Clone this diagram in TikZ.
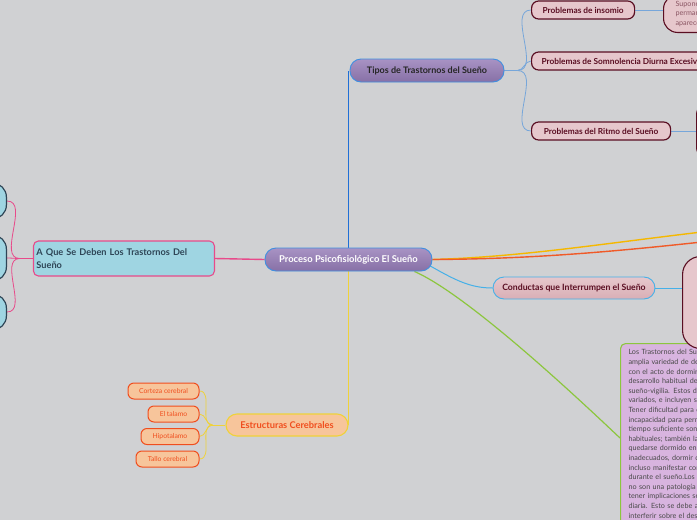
\documentclass[tikz,border=0pt]{standalone}
\usepackage{fontspec}
\setmainfont{Lato}
\usetikzlibrary{calc, backgrounds}
\definecolor{canvas}{HTML}{D0D1D3}
\definecolor{purplt}{HTML}{A893C4}
\definecolor{purpdk}{HTML}{8770A6}
\definecolor{hubline}{HTML}{3F8FE0}
\definecolor{blueln}{HTML}{1F6FD6}
\definecolor{skyln}{HTML}{76A6DA}
\definecolor{cyanln}{HTML}{45B0E8}
\definecolor{rosefill}{HTML}{E6C7CC}
\definecolor{rosedk}{HTML}{D9AFB6}
\definecolor{maroon}{HTML}{5A0E22}
\definecolor{yellowln}{HTML}{F5B800}
\definecolor{orangeln}{HTML}{F05A28}
\definecolor{greenln}{HTML}{8CC63E}
\definecolor{lilac}{HTML}{D8B4DF}
\definecolor{txtgray}{HTML}{4A4A4A}
\definecolor{peach}{HTML}{F7C59B}
\definecolor{goldln}{HTML}{EFD23A}
\definecolor{flame}{HTML}{F04E1E}
\definecolor{aqua}{HTML}{9FD5E2}
\definecolor{pinkln}{HTML}{E84A8A}
\definecolor{slate}{HTML}{2E4556}
\tikzset{
  hub/.style={rounded corners=11pt, draw=hubline, line width=0.9pt, top color=purplt, bottom color=purpdk,
              minimum height=23pt, inner sep=0pt, font=\fontsize{9.4}{10}\selectfont\bfseries},
  topic/.style={hub, text=black!85, font=\fontsize{9}{10}\selectfont\bfseries},
  prob/.style={rounded corners=7pt, draw=maroon, fill=rosefill, line width=1.2pt, minimum height=18pt,
               inner xsep=10pt, inner ysep=0pt, font=\fontsize{8.3}{9}\selectfont\bfseries, text=maroon},
  bigbox/.style={rounded corners=14pt, draw=maroon, fill=rosefill, line width=1.1pt, inner ysep=6pt,
                 inner xsep=12pt, align=left, font=\fontsize{7.2}{9.6}\selectfont, text=maroon!70},
  conduct/.style={rounded corners=11pt, draw=cyanln, line width=0.9pt, top color=rosefill, bottom color=rosedk,
                  minimum height=22pt, inner sep=0pt, font=\fontsize{8.7}{10}\selectfont\bfseries, text=maroon},
  struct/.style={rounded corners=11pt, draw=goldln, fill=peach, line width=1.1pt, minimum height=22pt,
                 inner sep=0pt, font=\fontsize{9.3}{10}\selectfont\bfseries, text=flame},
  part/.style={rounded corners=6pt, draw=flame, fill=peach, line width=1pt, minimum height=16pt,
               inner sep=0pt, font=\fontsize{6.8}{8}\selectfont, text=flame},
  cause/.style={rounded corners=5pt, draw=pinkln, fill=aqua, line width=1.1pt, minimum height=35pt,
                text width=175pt, inner xsep=3pt, align=left,
                font=\fontsize{9.2}{12.5}\selectfont\bfseries, text=slate},
  blob/.style={rounded corners=14pt, draw=slate, fill=aqua, line width=1.2pt, minimum width=60pt},
  note/.style={rounded corners=5pt, draw=greenln, fill=lilac, line width=1.1pt, inner xsep=8pt, inner ysep=6pt,
               text width=210pt, align=left, font=\fontsize{7.2}{9.6}\selectfont, text=txtgray},
  main/.style={line width=1.4pt},
  twig/.style={line width=0.8pt},
}
\begin{document}
\begin{tikzpicture}[x=1pt, y=-1pt]
  \useasboundingbox (0,0) rectangle (697,520);
  \clip (0,0) rectangle (697,520);
  % center and first level
  \node[hub, minimum width=167pt, text=white] (c) at (348.5,259.5) {Proceso Psicofisiológico El Sueño};
  \node[topic, minimum width=154pt] (t) at (427,70.5) {Tipos de Trastornos del Sueño};
  \node[conduct, minimum width=162pt] (con) at (574,288) {Conductas que Interrumpen el Sueño};
  \node[struct, minimum width=122pt] (e) at (287,425) {Estructuras Cerebrales};
  \node[cause, anchor=east] (a) at (215,258.5) {A Que Se Deben Los Trastornos Del\\Sueño};
  \node[note, anchor=north west] (g) at (620,343) {Los Trastornos del Sueño constituyen una\\
    amplia variedad de desórdenes relacionados\\
    con el acto de dormir, que afectan al\\
    desarrollo habitual del ciclo\\
    sueño-vigilia. Estos desórdenes son muy\\
    variados, e incluyen síntomas como:\\
    Tener dificultad para conciliar el sueño o\\
    incapacidad para permanecer dormido el\\
    tiempo suficiente son los problemas más\\
    habituales; también la tendencia a\\
    quedarse dormido en momentos\\
    inadecuados, dormir demasiado o\\
    incluso manifestar conductas anormales\\
    durante el sueño.Los trastornos del sueño\\
    no son una patología menor, ya que pueden\\
    tener implicaciones serias en la vida\\
    diaria. Esto se debe a que pueden\\
    interferir sobre el desempeño};
  % tipos
  \node[prob, anchor=west, minimum width=103pt] (ins) at (531,10) {Problemas de insomio};
  \node[prob, anchor=west] (som) at (531,61) {Problemas de Somnolencia Diurna Excesiva};
  \node[prob, anchor=west, minimum width=139pt] (rit) at (531,131) {Problemas del Ritmo del Sueño};
  \node[bigbox, anchor=south west, text width=120pt] (insb) at (663,33) {Suponen dificultad para iniciar o\\permanecer en el sueño, y suelen\\aparecer por estrés};
  \node[bigbox, anchor=west, minimum width=60pt, minimum height=60pt] (ritb) at (696,131) {};
  \node[bigbox, anchor=west, rounded corners=18pt, minimum width=60pt, minimum height=92pt] (conb) at (682,302.5) {};
  % estructuras
  \node[part, minimum width=71pt] (s1) at (163.5,391) {Corteza cerebral};
  \node[part, minimum width=51pt] (s2) at (173.5,414) {El talamo};
  \node[part, minimum width=58pt] (s3) at (170,436.5) {Hipotalamo};
  \node[part, minimum width=63pt] (s4) at (167.5,459) {Tallo cerebral};
  % left blobs
  \node[blob, anchor=east, minimum height=36pt] (l1) at (7,201) {};
  \node[blob, anchor=east, minimum height=46pt] (l2) at (7,258) {};
  \node[blob, anchor=east, minimum height=36pt] (l3) at (7,312) {};
  \coordinate (yend) at (702,232);
  \coordinate (oend) at (702,242);
  \coordinate (tb) at ($(t.east)+(13,0)$);
  \coordinate (eb) at ($(e.west)+(-13,0)$);
  \coordinate (ab) at ($(a.west)+(-13,0)$);
  \begin{scope}[on background layer]
    \fill[canvas] (0,0) rectangle (697,520);
    \draw[main, yellowln] (c.east) .. controls (520,257) and (600,244) .. (yend);
    \draw[main, orangeln] (c.east) .. controls (530,259) and (610,252) .. (oend);
    \draw[main, blueln] (c.north) -- (c.north |- t.west);
    \draw[main, goldln] (c.south) -- (c.south |- e.east);
    \draw[main, pinkln] (c.west) -- (a.east);
    \draw[main, cyanln, line width=1pt] ($(c.east)+(-3,6)$) .. controls (455,280) and (470,288) .. (con.west);
    \draw[main, greenln, line width=1.2pt] ($(c.south east)+(-18,0)$) .. controls (470,296) and (585,405) .. ([yshift=-95pt]g.north west);
    \draw[twig, skyln] (t.east) -- (tb);
    \foreach \n in {ins, som, rit} \draw[twig, skyln] (tb) to[out=0, in=180] (\n.west);
    \draw[twig, skyln] (ins.east) -- (ins.east -| insb.west);
    \draw[twig, skyln] (rit.east) -- (ritb.west);
    \draw[twig, cyanln] (con.east) -- (con.east -| conb.west);
    \draw[twig, goldln] (e.west) -- (eb);
    \foreach \n in {s1, s2, s3, s4} \draw[twig, goldln] (eb) to[out=180, in=0] (\n.east);
    \draw[twig, pinkln] (a.west) -- (ab);
    \foreach \n in {l1, l2, l3} \draw[twig, pinkln] (ab) to[out=180, in=0] (\n.east);
  \end{scope}
\end{tikzpicture}
\end{document}
